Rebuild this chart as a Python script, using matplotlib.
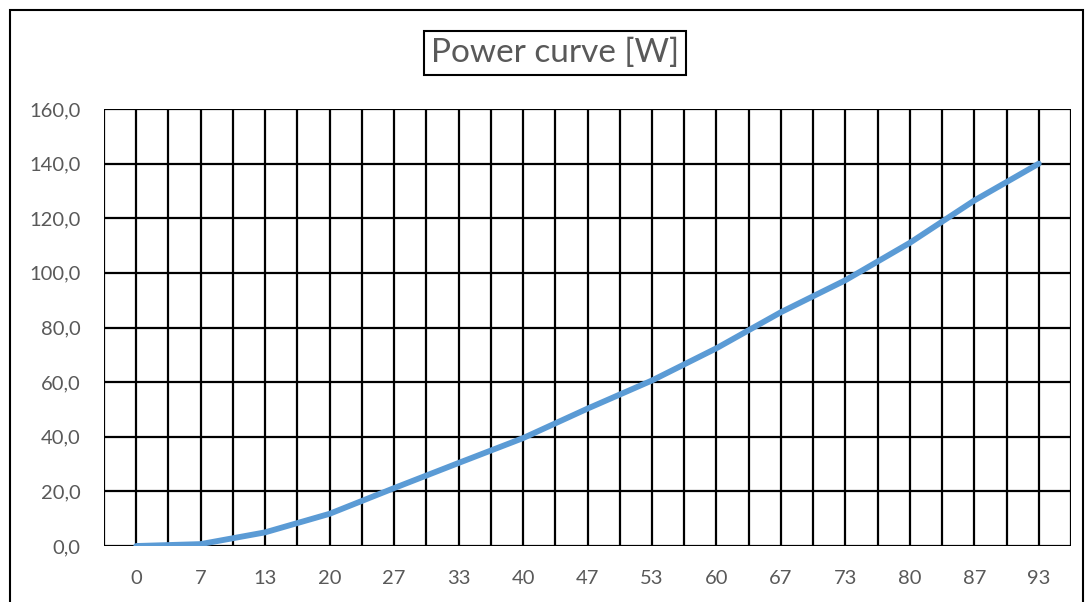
import numpy as np
import matplotlib
matplotlib.use('Agg')
import matplotlib.pyplot as plt
from matplotlib.patches import Rectangle

# wind speed categories (labelled) and power
speed = [0, 20/3, 40/3, 20, 80/3, 100/3, 40, 140/3, 160/3, 60, 200/3, 220/3, 80, 260/3, 280/3]
speed_labels = ['0', '7', '13', '20', '27', '33', '40', '47', '53', '60', '67', '73', '80', '87', '93']
power = [0.0, 0.7, 5.0, 11.8, 21.2, 30.4, 39.5, 50.3, 60.6, 72.4, 85.6, 97.3, 111.0, 126.5, 140.0]

y_ticks = [0, 20, 40, 60, 80, 100, 120, 140, 160]

plt.rcParams['font.family'] = ['Lato', 'DejaVu Sans']

W, H = 1088, 602
fig = plt.figure(figsize=(W / 100, H / 100), dpi=100)

# outer chart-area border
fig.patches.append(Rectangle((10 / W, -0.05), (1083 - 10) / W, (H - 10) / H + 0.05,
                             transform=fig.transFigure, fill=False,
                             edgecolor='black', linewidth=1.5))

left, right, top, bottom = 104, 1071, 109, 546
ax = fig.add_axes([left / W, 1 - bottom / H, (right - left) / W, (bottom - top) / H])

step = 10 / 3
ax.set_xlim(-step, 29 * step)
ax.set_ylim(0, 160)

# vertical gridlines at every half-step category
for gx in np.arange(-step, 29 * step + 0.01, step):
    ax.axvline(gx, color='black', linewidth=1.6, zorder=1)
for gy in y_ticks:
    ax.axhline(gy, color='black', linewidth=1.6, zorder=1)

ax.plot(speed, power, color='#5B9BD5', linewidth=4.2, solid_capstyle='round', zorder=3)

ax.set_xticks(speed)
ax.set_xticklabels(speed_labels)
ax.set_yticks(y_ticks)
ax.set_yticklabels([f'{v:.1f}'.replace('.', ',') for v in y_ticks])
ax.tick_params(length=0, labelsize=14.5, labelcolor='#595959')
ax.tick_params(axis='x', pad=17)
ax.tick_params(axis='y', pad=17)
for s in ax.spines.values():
    s.set_visible(False)

fig.text(555 / W, 1 - 53 / H, 'Power curve [W]', ha='center', va='center',
         fontsize=24, color='#595959',
         bbox=dict(boxstyle='square,pad=0.22', facecolor='white',
                   edgecolor='black', linewidth=1.5))

fig.savefig('out.png', dpi=100)
